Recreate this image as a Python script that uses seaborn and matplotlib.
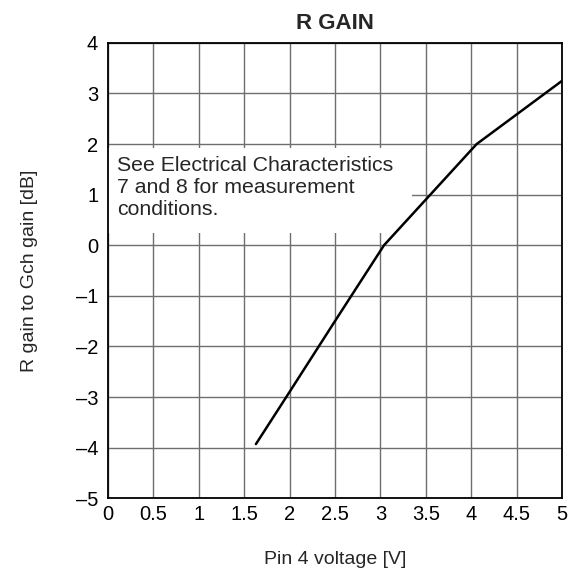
import numpy as np
import pandas as pd
import matplotlib
matplotlib.use("Agg")
import matplotlib.pyplot as plt
import seaborn as sns
from matplotlib.patches import Rectangle

# R gain curve
pin4_voltage = [1.63, 2.0, 2.5, 3.04, 4.06, 5.0]
r_gain_db = [-3.93, -2.9, -1.5, 0.0, 2.0, 3.25]

x_ticks = [0, 0.5, 1, 1.5, 2, 2.5, 3, 3.5, 4, 4.5, 5]
x_tick_labels = ["0", "0.5", "1", "1.5", "2", "2.5", "3", "3.5", "4", "4.5", "5"]
y_ticks = [-5, -4, -3, -2, -1, 0, 1, 2, 3, 4]

note = "See Electrical Characteristics\n7 and 8 for measurement\nconditions."

df = pd.DataFrame({"voltage": pin4_voltage, "gain": r_gain_db})

sns.set_style("white")
plt.rcParams["font.family"] = ["Liberation Sans", "DejaVu Sans"]

fig = plt.figure(figsize=(5.8, 5.72), dpi=100)
ax = fig.add_axes([0.186, 0.129, 0.783, 0.796])

sns.lineplot(data=df, x="voltage", y="gain", ax=ax, color="black",
             linewidth=1.8, zorder=4, sort=False)

ax.set_xlim(0, 5)
ax.set_ylim(-5, 4)
ax.set_xticks(x_ticks)
ax.set_xticklabels(x_tick_labels)
ax.set_yticks(y_ticks)
ax.set_yticklabels([f"{v}".replace("-", "\u2013") for v in y_ticks])
ax.tick_params(axis="both", length=0, labelsize=14.5, colors="black")
ax.tick_params(axis="y", pad=7)
ax.tick_params(axis="x", pad=5)

ax.grid(True, color="#6e6e6e", linewidth=1.0)
ax.set_axisbelow(True)
for s in ax.spines.values():
    s.set_color("black")
    s.set_linewidth(1.3)
    s.set_zorder(5)

# white note box hiding the grid behind the text
ax.add_patch(Rectangle((0, 0.25), 3.35, 1.68, facecolor="white",
                       edgecolor="none", zorder=2))
ax.text(0.1, 1.76, note, fontsize=15.3, va="top", ha="left",
        linespacing=1.2, zorder=3)

ax.set_title("R GAIN", fontsize=16, fontweight="bold", pad=10)
ax.set_xlabel("Pin 4 voltage [V]", fontsize=14, labelpad=19)
ax.set_ylabel("R gain to Gch gain [dB]", fontsize=14, labelpad=27)

fig.savefig("out.png", dpi=100)
